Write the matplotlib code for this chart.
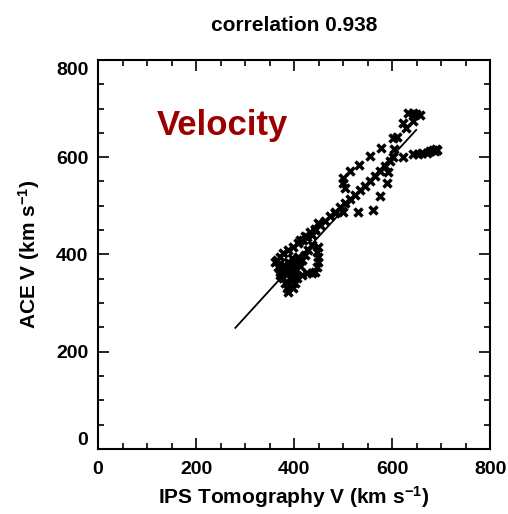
import numpy as np
import matplotlib.pyplot as plt
from matplotlib.ticker import MultipleLocator
import matplotlib.transforms as mtransforms

plt.rcParams['font.family'] = ['Liberation Sans', 'DejaVu Sans']
plt.rcParams['font.weight'] = 'bold'
plt.rcParams['axes.titleweight'] = 'bold'
plt.rcParams['axes.labelweight'] = 'bold'
plt.rcParams['mathtext.fontset'] = 'custom'
plt.rcParams['mathtext.rm'] = 'Liberation Sans:bold'
plt.rcParams['mathtext.bf'] = 'Liberation Sans:bold'
plt.rcParams['mathtext.default'] = 'bf'

# IPS tomography speed vs ACE speed (km/s)
ips_v = [633, 643, 649, 657, 643, 622, 629, 602, 610, 578, 555, 533, 514,
         604, 622, 643, 653, 661, 671, 678, 684, 692, 688, 690,
         592, 590, 576, 561, 531, 500, 484,
         500, 500, 504,
         412, 422, 433, 443, 453, 463, 473, 484, 494, 504,
         514, 524, 535, 545, 555, 565, 576, 586, 596, 602,
         365, 371, 378, 388, 398, 408, 418, 427,
         449, 443, 437,
         449, 447, 449, 449, 447, 443, 437, 427, 416, 406, 402, 398,
         361, 367, 371, 371, 378, 382, 386, 388,
         388, 396, 402, 408, 416, 392, 402, 412, 396, 386, 422, 429, 437,
         392, 398, 404, 410, 394, 390, 400, 380, 384]
ace_v = [691, 691, 689, 687, 675, 671, 660, 640, 642, 619, 603, 584, 572,
         617, 601, 607, 607, 609, 609, 613, 615, 615, 613, 617,
         570, 547, 521, 492, 488, 488, 486,
         558, 547, 537,
         430, 438, 447, 453, 461, 469, 479, 488, 498, 506,
         514, 523, 533, 541, 551, 562, 572, 582, 593, 601,
         389, 395, 403, 409, 416, 424, 430, 436,
         465, 451, 440,
         416, 405, 395, 385, 374, 364, 362, 362, 358, 352, 342, 331,
         385, 374, 364, 358, 352, 342, 331, 323,
         385, 393, 385, 395, 389, 372, 368, 376, 358, 368, 399, 409, 420,
         380, 376, 380, 384, 350, 340, 362, 378, 362]

# regression line end points
fit_x = [280, 649]
fit_y = [249, 656]

correlation = 0.938

fig = plt.figure(figsize=(5.08, 5.14), dpi=100)
ax = fig.add_axes([0.193, 0.1265, 0.772, 0.757])

ax.plot(fit_x, fit_y, color='black', lw=1.3)
ax.plot(ips_v, ace_v, ls='none', marker='x', ms=6, mew=2.5, color='black')

ax.set_xlim(0, 800)
ax.set_ylim(0, 800)
ax.set_xticks([0, 200, 400, 600, 800])
ax.set_yticks([0, 200, 400, 600, 800])
ax.xaxis.set_minor_locator(MultipleLocator(50))
ax.yaxis.set_minor_locator(MultipleLocator(50))
ax.tick_params(which='both', direction='in', top=True, right=True, width=1.2)
ax.tick_params(which='major', length=8, labelsize=14)
ax.tick_params(which='minor', length=4)
ax.tick_params(axis='x', pad=9)
ax.tick_params(axis='y', pad=7)
for s in ax.spines.values():
    s.set_linewidth(1.5)

ylabels = ax.get_yticklabels()
ylabels[0].set_transform(ylabels[0].get_transform() +
                         mtransforms.ScaledTranslation(0, 10 / 100, fig.dpi_scale_trans))
ylabels[-1].set_transform(ylabels[-1].get_transform() +
                          mtransforms.ScaledTranslation(0, -9 / 100, fig.dpi_scale_trans))

ax.set_xlabel(r'IPS Tomography V (km s$^{-1}$)', fontsize=15, fontweight='bold', labelpad=4)
ax.set_ylabel(r'ACE V (km s$^{-1}$)', fontsize=15, fontweight='bold', labelpad=10)
ax.set_title('correlation {:.3f}'.format(correlation), fontsize=15, fontweight='bold', pad=21)

ax.text(120, 646, 'Velocity', color='#9b0000', fontsize=25, fontweight='bold')

fig.savefig('out.png', dpi=100)
